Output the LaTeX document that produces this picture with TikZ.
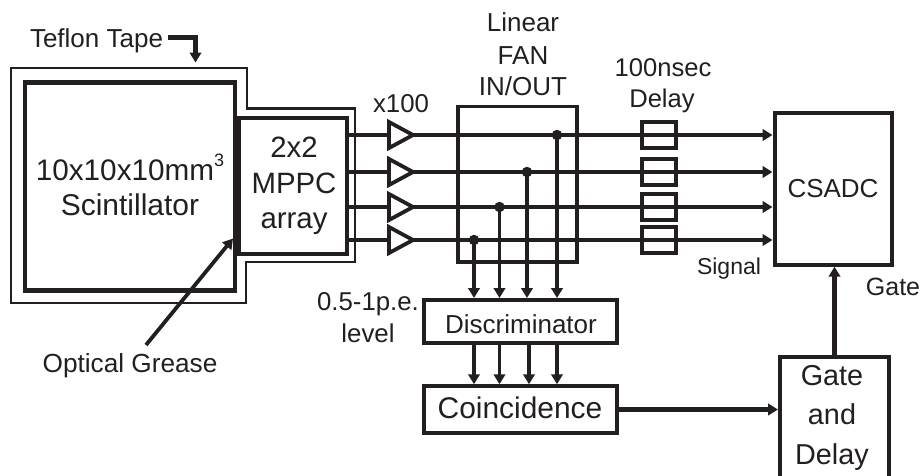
\documentclass[tikz,border=0pt]{standalone}
\usepackage{fontspec}
\setmainfont{Liberation Sans}
\usetikzlibrary{arrows.meta,shapes.geometric,calc}
\definecolor{ink}{HTML}{231F20}
\newcommand{\fs}[1]{\fontsize{#1}{#1}\selectfont}
\tikzset{
  every node/.style={text=ink},
  boxn/.style={draw=ink,line width=4pt,rectangle,inner sep=0pt,line join=miter},
  txt/.style={anchor=base,inner sep=0pt,outer sep=0pt},
  sig/.style={draw=ink,line width=3.8pt},
  arr/.style={sig,-{Triangle[length=10pt,width=11.5pt]}},
  amp/.style={isosceles triangle,isosceles triangle stretches,draw=ink,fill=white,line width=3.8pt,
     minimum height=24pt,minimum width=26pt,inner sep=0pt,outer sep=0pt,anchor=lower side,shape border rotate=0},
  dly/.style={boxn,minimum width=34pt,minimum height=26.5pt},
  jun/.style={circle,fill=ink,draw=none,minimum size=10.5pt,inner sep=0pt},
}
\begin{document}
\begin{tikzpicture}[x=1pt,y=-1pt]
\useasboundingbox (0,0) rectangle (924,475);
% Teflon wrap
\draw[ink,line width=2.4pt,line join=miter] (11,68) -- (247,68) -- (247,108.5) -- (355,108.5) -- (355,262) -- (246,262) -- (246,303) -- (11,303) -- cycle;
% main boxes
\node[boxn,line width=4.5pt,minimum width=210pt,minimum height=208pt] (scint) at (130,186.5) {};
\node[boxn,minimum width=108pt,minimum height=136.5pt] (mppc) at (293,185.75) {};
\node[boxn,line width=3.2pt,minimum width=119pt,minimum height=155.5pt] (fan) at (517.5,184.25) {};
\node[boxn,minimum width=117.5pt,minimum height=151.7pt] (csadc) at (833.25,188.85) {};
\node[boxn,minimum width=193pt,minimum height=43pt] (disc) at (520.5,321.5) {};
\node[boxn,minimum width=193pt,minimum height=46.5pt] (coin) at (520.5,409.5) {};
\node[boxn,minimum width=109pt,minimum height=121pt] (gate) at (834.5,417.5) {};
% delays
\node[dly] (d1) at (658.6,135) {};
\node[dly] (d2) at (658.6,172) {};
\node[dly] (d3) at (658.6,207) {};
\node[dly] (d4) at (658.6,240) {};
% amplifiers
\node[amp] (a1) at (389,135) {};
\node[amp] (a2) at (389,172) {};
\node[amp] (a3) at (389,207) {};
\node[amp] (a4) at (389,240) {};
% signal lines
\foreach \i in {1,2,3,4}{
  \draw[sig] (mppc.east |- a\i.lower side) -- (a\i.lower side);
  \draw[arr] (a\i.apex) -- (csadc.west |- a\i.apex);
}
% junctions
\node[jun] (j1) at (557,135) {};
\node[jun] (j2) at (527,172) {};
\node[jun] (j3) at (499.5,207) {};
\node[jun] (j4) at (474,240) {};
\foreach \i in {1,2,3,4}{
  \draw[arr] (j\i.center) -- (j\i.center |- disc.north);
}
\coordinate (c1) at (557,321);
\coordinate (c2) at (529,321);
\coordinate (c3) at (499.5,321);
\coordinate (c4) at (474,321);
\foreach \i in {1,2,3,4}{
  \draw[arr] (c\i |- disc.south) -- (c\i |- coin.north);
}
\draw[arr,line width=4.2pt] (coin.east) -- (gate.west |- coin.east);
\draw[arr,line width=4.2pt] (gate.north) -- (gate.north |- csadc.south);
% text
\node[txt,font=\fs{26}] (teflon) at (96.5,47) {Teflon Tape};
\node[txt,font=\fs{29.7}] (s1) at (130,180) {10x10x10mm\raisebox{.46em}{\fs{18}3}};
\node[txt,font=\fs{30}] (s2) at (130,215) {Scintillator};
\node[txt,font=\fs{29.4}] (m1) at (294,157) {2x2};
\node[txt,font=\fs{29.4}] (m2) at (294,193) {MPPC};
\node[txt,font=\fs{29.4}] (m3) at (294,228) {array};
\node[txt,font=\fs{25.8}] (x100) at (401,112) {x100};
\node[txt,font=\fs{26}] (f1) at (523,31) {Linear};
\node[txt,font=\fs{26}] (f2) at (523,64) {FAN};
\node[txt,font=\fs{26}] (f3) at (523,95) {IN/OUT};
\node[txt,font=\fs{25.6}] (n1) at (663,76) {100nsec};
\node[txt,font=\fs{25.6}] (n2) at (662,107) {Delay};
\node[txt,font=\fs{26}] (csl) at (833,197) {CSADC};
\node[txt,font=\fs{23}] (sigl) at (729,274) {Signal};
\node[txt,font=\fs{25}] (gl) at (893,295) {Gate};
\node[txt,font=\fs{26}] (dl) at (521,333) {Discriminator};
\node[txt,font=\fs{29.9}] (cl) at (520,418) {Coincidence};
\node[txt,font=\fs{28.8}] (g1) at (832,385) {Gate};
\node[txt,font=\fs{28.8}] (g2) at (832,424) {and};
\node[txt,font=\fs{28.8}] (g3) at (832,464) {Delay};
\node[txt,font=\fs{25.8}] (p1) at (368,310) {0.5-1p.e.};
\node[txt,font=\fs{25.8}] (p2) at (368,342) {level};
\node[txt,font=\fs{26.2}] (og) at (130,372) {Optical Grease};
% leaders
\coordinate (tfbend) at (195.5,37.5);
\coordinate (tftip) at (195.5,62.5);
\draw[arr,line width=4.2pt,line join=miter] (168,37.5) -- (tfbend) -- (tftip);
\coordinate (ogstart) at (146,345);
\coordinate (ogtip) at (233,238.5);
\draw[arr] (ogstart) -- (ogtip);
\end{tikzpicture}
\end{document}
